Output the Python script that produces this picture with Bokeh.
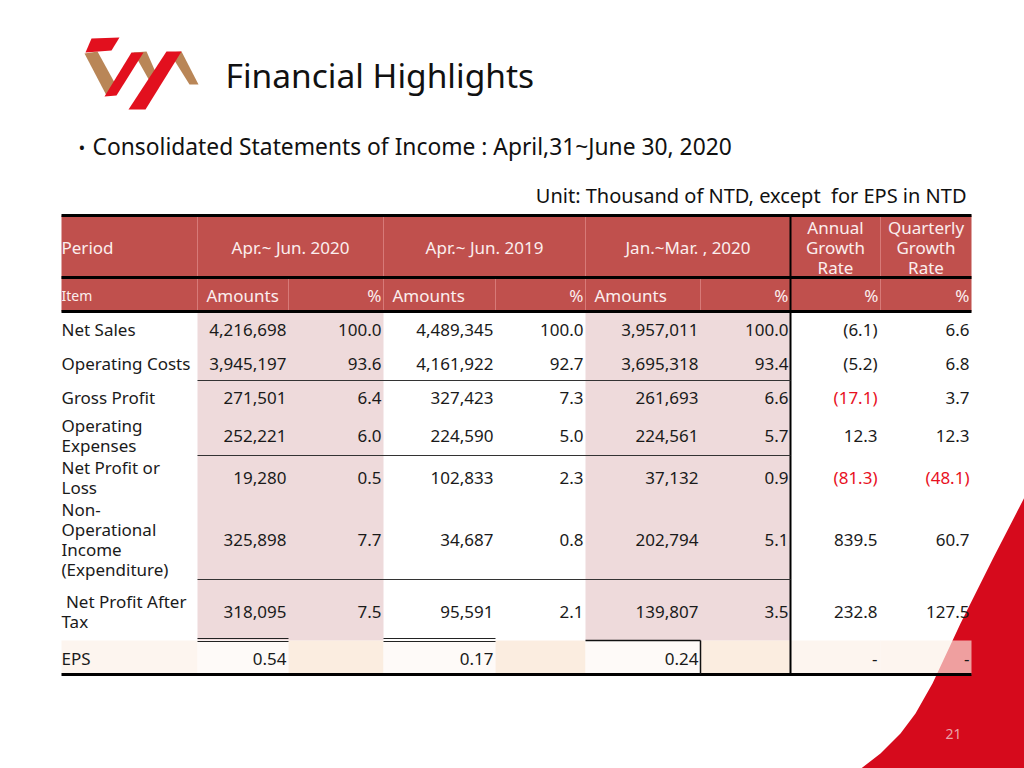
from bokeh.plotting import figure
from bokeh.models import Range1d, ColumnDataSource
from bokeh.core.properties import value
from bokeh.embed import file_html
from bokeh.resources import INLINE

# ---------------- data ----------------
title = "Financial Highlights"
subtitle = "Consolidated Statements of Income : April,31~June 30, 2020"
unit_note = "Unit: Thousand of NTD, except  for EPS in NTD"
page_no = "21"

periods = ["Apr.~ Jun. 2020", "Apr.~ Jun. 2019", "Jan.~Mar. , 2020"]
growth_headers = ["Annual\nGrowth\nRate", "Quarterly\nGrowth\nRate"]
sub_headers = ["Amounts", "%", "Amounts", "%", "Amounts", "%", "%", "%"]

items = ["Net Sales", "Operating Costs", "Gross Profit", "Operating\nExpenses",
         "Net Profit or\nLoss", "Non-\nOperational\nIncome\n(Expenditure)",
         "\u00a0Net Profit After\nTax"]
amt_q2_2020 = ["4,216,698", "3,945,197", "271,501", "252,221", "19,280", "325,898", "318,095"]
pct_q2_2020 = ["100.0", "93.6", "6.4", "6.0", "0.5", "7.7", "7.5"]
amt_q2_2019 = ["4,489,345", "4,161,922", "327,423", "224,590", "102,833", "34,687", "95,591"]
pct_q2_2019 = ["100.0", "92.7", "7.3", "5.0", "2.3", "0.8", "2.1"]
amt_q1_2020 = ["3,957,011", "3,695,318", "261,693", "224,561", "37,132", "202,794", "139,807"]
pct_q1_2020 = ["100.0", "93.4", "6.6", "5.7", "0.9", "5.1", "3.5"]
annual_growth = ["(6.1)", "(5.2)", "(17.1)", "12.3", "(81.3)", "839.5", "232.8"]
quarterly_growth = ["6.6", "6.8", "3.7", "12.3", "(48.1)", "60.7", "127.5"]
annual_highlight = [False, False, True, False, True, False, False]
quarterly_highlight = [False, False, False, False, True, False, False]
eps_label = "EPS"
eps_values = ["0.54", "0.17", "0.24"]
eps_growth = ["-", "-"]

# ---------------- layout (pixels) ----------------
W, H = 1024, 768
FONT = value("Noto Sans")
col_edges = [61, 197, 288, 383, 495, 585, 700, 790, 880, 971]
row_centers = [329, 363, 397, 435, 477, 539, 611]
eps_y = 658
top_y, hdr_mid, hdr_bot, eps_top, eps_bot = 215, 277, 311, 640, 674
HEADER_RED = "#c0504d"
PINK = "#eedadb"
LH = 0.87

p = figure(width=W, height=H, x_range=Range1d(0, W), y_range=Range1d(H, 0),
           output_backend="svg", toolbar_location=None, min_border=0)
p.axis.visible = False
p.grid.visible = False
p.outline_line_color = None
p.background_fill_color = "white"

# decorative red corner
corner_x = [1026, 993, 960, 932, 915, 900, 880, 858, 1026]
corner_y = [493, 557, 623, 683, 713, 733, 753, 770, 770]
p.patch(corner_x, corner_y, fill_color="#d60a1c", line_color=None)

# pink column shading
p.quad(left=[col_edges[1], col_edges[5]], right=[col_edges[3], col_edges[7]],
       top=[hdr_bot] * 2, bottom=[eps_top] * 2, fill_color=PINK, line_color=None)

# EPS row cells
eps_fill = ["#fcefe6", "#fef8f4", "#f9e3d0", "#fef8f4", "#f9e3d0", "#fef8f4", "#f9e3d0", "#fcefe6", "#fcefe6"]
p.quad(left=col_edges[:-1], right=col_edges[1:], top=[eps_top] * 9, bottom=[eps_bot] * 9,
       fill_color=eps_fill, fill_alpha=0.65, line_color=None)

# header band
p.quad(left=[col_edges[0]], right=[col_edges[-1]], top=[top_y], bottom=[hdr_bot],
       fill_color=HEADER_RED, line_color=None)
# light header dividers
hx = [col_edges[1], col_edges[3], col_edges[5], col_edges[8], col_edges[2], col_edges[4], col_edges[6]]
hy0 = [top_y, top_y, top_y, top_y, hdr_mid, hdr_mid, hdr_mid]
hy1 = [hdr_bot] * 7
p.segment(hx, hy0, hx, hy1, line_color="#d77a78", line_width=1)

# thick black rules
L, R = col_edges[0], col_edges[-1]
p.segment([L, L, L, L], [top_y, hdr_mid, hdr_bot, eps_bot], [R, R, R, R],
          [top_y, hdr_mid, hdr_bot, eps_bot], line_color="black", line_width=3)
p.segment([col_edges[7]], [top_y], [col_edges[7]], [eps_bot], line_color="black", line_width=2)
# thin separators
for yy in [380, 455, 579]:
    p.segment([col_edges[1]], [yy], [col_edges[7]], [yy], line_color="#333333", line_width=1)
# double lines above EPS
for yy in [eps_top - 2, eps_top + 1]:
    p.segment([col_edges[1], col_edges[3]], [yy, yy], [col_edges[2], col_edges[4]], [yy, yy],
              line_color="#222222", line_width=1)
p.segment([col_edges[5], col_edges[6]], [eps_top, eps_top], [col_edges[6], col_edges[6]], [eps_top, eps_bot],
          line_color="#111111", line_width=1.5)

# ---------------- texts ----------------
def txt(x, y, t, size="17px", color="#1a1a1a", align="left", baseline="middle", lh=LH):
    p.text(x=x, y=y, text=t, text_font=FONT, text_font_size=size, text_color=color,
           text_align=align, text_baseline=baseline, text_line_height=lh)

HDR_TXT = "#fbeeee"
# header row 1
txt([col_edges[0]], [247], ["Period"], color=HDR_TXT)
pc = [(col_edges[1] + col_edges[3]) / 2, (col_edges[3] + col_edges[5]) / 2, (col_edges[5] + col_edges[7]) / 2]
txt(pc, [247] * 3, periods, color=HDR_TXT, align="center")
gc = [(col_edges[7] + col_edges[8]) / 2, (col_edges[8] + col_edges[9]) / 2]
txt(gc, [247] * 2, growth_headers, color=HDR_TXT, align="center")
# header row 2
txt([col_edges[0]], [295], ["Item"], size="14px", color=HDR_TXT)
sx, sa = [], []
for i, h in enumerate(sub_headers):
    if h == "Amounts":
        sx.append(col_edges[i + 1] + 9); sa.append("left")
    else:
        sx.append(col_edges[i + 2] - 2); sa.append("right")
src_h = ColumnDataSource(dict(x=sx, y=[295] * 8, t=sub_headers, a=sa))
p.text(x="x", y="y", text="t", text_align="a", source=src_h, text_font=FONT,
       text_font_size="17px", text_color=HDR_TXT, text_baseline="middle")

# body
txt([col_edges[0]] * len(items), row_centers, items)
cols = [amt_q2_2020, pct_q2_2020, amt_q2_2019, pct_q2_2019, amt_q1_2020, pct_q1_2020]
for ci, col in enumerate(cols):
    txt([col_edges[ci + 2] - 2] * len(col), row_centers, col, align="right")
txt([col_edges[8] - 3] * 7, row_centers, annual_growth, align="right",
    color=["#e8101e" if f else "#1a1a1a" for f in annual_highlight])
txt([col_edges[9] - 2] * 7, row_centers, quarterly_growth, align="right",
    color=["#e8101e" if f else "#1a1a1a" for f in quarterly_highlight])

# EPS row
txt([col_edges[0]], [eps_y], [eps_label])
txt([col_edges[2] - 2, col_edges[4] - 2, col_edges[6] - 2], [eps_y] * 3, eps_values, align="right")
txt([col_edges[8] - 3, col_edges[9] - 2], [eps_y] * 2, eps_growth, align="right")

# titles
txt([225], [74], [title], size="33.5px", color="#111111")
txt([78], [146], ["\u2022"], size="18px", color="#111111")
txt([92], [146], [subtitle], size="22.8px", color="#111111")
txt([966], [195], [unit_note.replace("  ", "\u00a0 ")], size="20px", color="#111111", align="right")
txt([953], [733], [page_no], size="14px", color="#e9a3a8", align="center")

# logo
logo_gold = [
    ([84, 97, 114, 106], [53, 51, 82, 95]),
    ([133, 146, 157, 151], [52, 51, 76, 84]),
    ([169, 181, 198, 189], [52, 51, 84, 84]),
]
logo_red = [
    ([91, 119, 111, 85], [38, 37, 50, 52]),
    ([104, 116, 143, 131], [96, 95, 52, 52]),
    ([128, 145, 181, 166], [109, 109, 51, 51]),
]
p.patches([g[0] for g in logo_gold], [g[1] for g in logo_gold], fill_color="#b98657", line_color=None)
p.patches([r[0] for r in logo_red], [r[1] for r in logo_red], fill_color="#e2101e", line_color=None)

open("out.html", "w").write(file_html(p, INLINE))
